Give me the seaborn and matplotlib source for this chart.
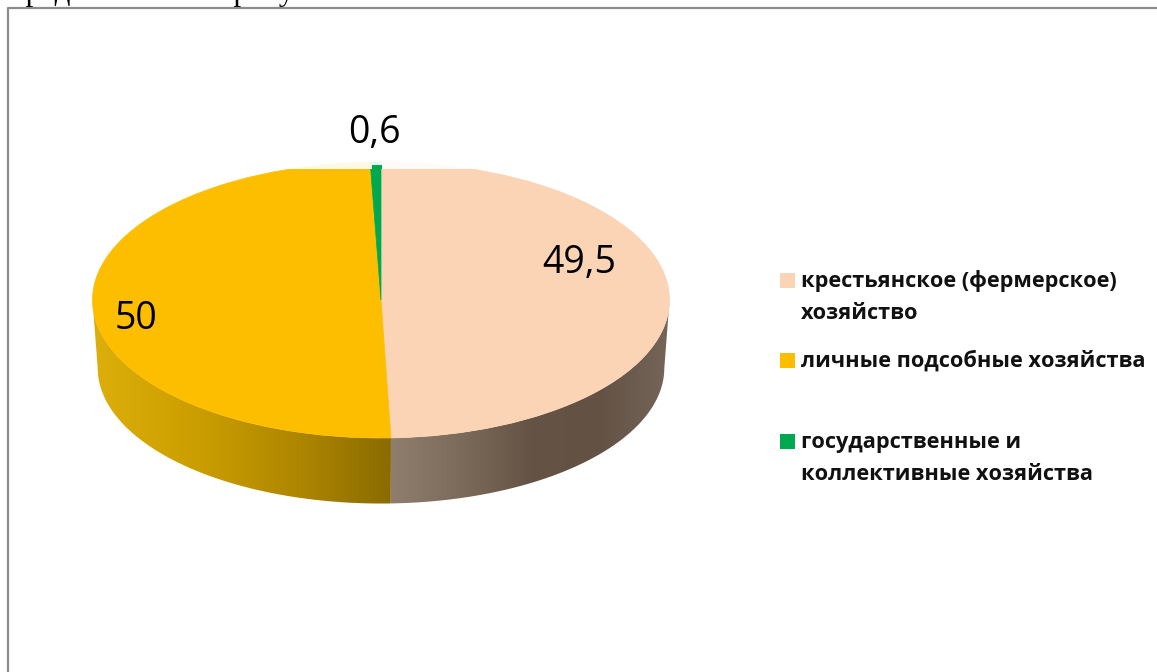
import numpy as np
import seaborn as sns
import matplotlib.pyplot as plt
from matplotlib.patches import Polygon, Rectangle

# данные диаграммы
categories = ['крестьянское (фермерское)\nхозяйство',
              'личные подсобные хозяйства',
              'государственные и\nколлективные хозяйства']
values = [49.5, 50, 0.6]
value_labels = ['49,5', '50', '0,6']

colors = ['#FBD3B5', '#FDBE00', '#00A850']
side_colors = [['#8F7D6E', '#7C6A5A', '#655345', '#635244', '#75665A'],
               ['#DCAF0C', '#CC9F00', '#B08800', '#8A6B00']]

W, H = 1157, 672
CX, CY, RX, RY = 381, 300, 288.5, 138
# нижний край стенки чуть уже верхнего (перспектива)
BOTTOM_CY, BOTTOM_K = 368, 0.982

sns.set_theme(style='white')
plt.rcParams['font.family'] = ['Open Sans', 'DejaVu Sans']

fig = plt.figure(figsize=(W / 100, H / 100), dpi=100)
ax = fig.add_axes([0, 0, 1, 1])


def px(x, y):
    # пиксели картинки -> координаты осей
    return (x - CX) / RX, (CY - y) / RY


wedges, _ = ax.pie(values, colors=colors, startangle=90, counterclock=False, radius=1)
for w in wedges:
    w.set_edgecolor(w.get_facecolor())
    w.set_linewidth(0.5)
ax.set_aspect('auto')
ax.set_frame_on(False)

# боковая стенка с градиентом
shift = (BOTTOM_CY - CY) / RY
for w, stops in zip(wedges, side_colors):
    t = np.radians(np.linspace(w.theta1, w.theta2, 400))
    t = t[np.sin(t) <= 0]
    xs, ys = np.cos(t), np.sin(t)
    lower = np.c_[xs * BOTTOM_K, ys * BOTTOM_K - shift][::-1]
    poly = Polygon(np.r_[np.c_[xs, ys], lower], closed=True,
                   transform=ax.transData, fc='none', ec='none')
    ax.add_patch(poly)
    cmap = sns.blend_palette(stops, as_cmap=True)
    im = ax.imshow(np.linspace(0, 1, 256)[None, :], cmap=cmap, aspect='auto', zorder=0,
                   extent=(xs.min(), xs.max(), -1 - shift, 0.1))
    im.set_clip_path(poly)

# сверху круг обрезан, остаётся бледная полоска
x0, y0 = px(280, 169)
x1, y1 = px(490, 158)
ax.add_patch(Rectangle((x0, y0), x1 - x0, y1 - y0, fc='white', ec='none', alpha=0.9, zorder=2))
gx0 = px(371.5, 0)[0]
gx1 = px(382, 0)[0]
gy1 = px(0, 164.5)[1]
ax.add_patch(Rectangle((gx0, y0), gx1 - gx0, gy1 - y0, fc=colors[2], ec='none', zorder=3))

ax.set_xlim(px(0, 0)[0], px(W, 0)[0])
ax.set_ylim(px(0, H)[1], px(0, 0)[1])

# подписи значений
label_pos = [(579, 273), (136, 329), (374, 143)]
for txt, (x, y) in zip(value_labels, label_pos):
    ax.text(*px(x, y), txt, fontsize=27, color='black', ha='center', va='baseline', zorder=5)

# легенда
legend_y = [273, 353, 434]
text_y = [(281, 313), (361,), (442, 474)]
for cat, c, sy, ty in zip(categories, colors, legend_y, text_y):
    sq_x, sq_y = px(780, sy + 15)
    ax.add_patch(Rectangle((sq_x, sq_y), 14.5 / RX, 15 / RY, fc=c, ec='none', zorder=5))
    for line, y in zip(cat.split('\n'), ty):
        ax.text(*px(801, y), line, fontsize=15.7, fontweight='bold', color='#111111',
                ha='left', va='center', zorder=5)

# рамка и обрезанная строка сверху
ax.plot(*zip(px(8, H), px(8, 8), px(W, 8)), color='#8c8c8c', lw=1.6, zorder=6)
ax.text(*px(9, 0), 'представлено на рисунке', family='Liberation Serif', fontsize=22.3,
        color='black', ha='left', va='baseline', zorder=1, clip_on=True)

fig.savefig('out.png', dpi=100)
